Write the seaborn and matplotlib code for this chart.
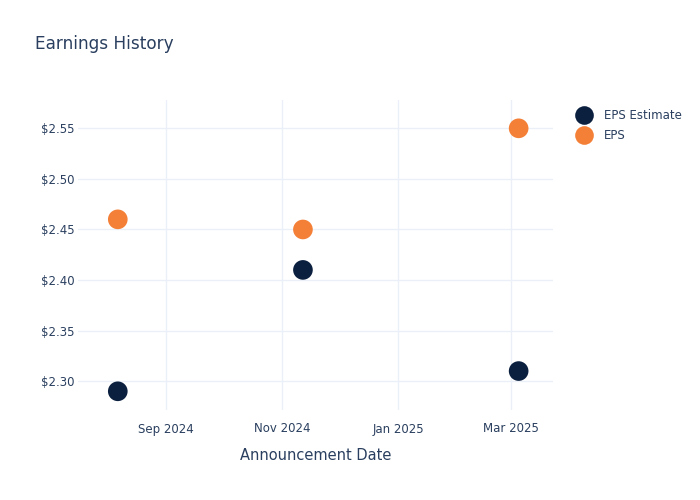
import pandas as pd
import seaborn as sns
import matplotlib.pyplot as plt
import matplotlib.dates as mdates
from matplotlib.ticker import FuncFormatter

# data
dates = ["2024-08-07", "2024-11-12", "2025-03-05"]
eps_estimate = [2.29, 2.41, 2.31]
eps_actual = [2.46, 2.45, 2.55]

text_color = "#2a3f5f"
grid_color = "#ebf0f8"
palette = {"EPS Estimate": "#0b1f3f", "EPS": "#f47f36"}

df = pd.DataFrame({
    "date": pd.to_datetime(dates * 2),
    "value": eps_estimate + eps_actual,
    "series": ["EPS Estimate"] * 3 + ["EPS"] * 3,
})

sns.set_style("white")
plt.rcParams["font.family"] = ["DejaVu Sans"]

fig = plt.figure(figsize=(7, 5), dpi=100)
ax = fig.add_axes([0.111, 0.18, 0.679, 0.62])

sns.scatterplot(data=df, x="date", y="value", hue="series",
                hue_order=["EPS Estimate", "EPS"], palette=palette,
                s=200, linewidth=0, ax=ax, zorder=3)

ax.set_xlim(pd.Timestamp("2024-07-17"), pd.Timestamp("2025-03-23"))
ax.set_ylim(2.2715, 2.578)

ax.xaxis.set_major_locator(mdates.MonthLocator(bymonth=[1, 3, 9, 11]))
ax.xaxis.set_major_formatter(mdates.DateFormatter("%b %Y"))
ax.set_yticks([2.30, 2.35, 2.40, 2.45, 2.50, 2.55])
ax.yaxis.set_major_formatter(FuncFormatter(lambda v, p: f"${v:.2f}"))

ax.grid(True, color=grid_color, linewidth=1)
ax.set_axisbelow(True)
sns.despine(ax=ax, left=True, bottom=True)
ax.tick_params(axis="both", length=0, labelsize=8.5, colors=text_color)
ax.tick_params(axis="x", pad=9)
ax.tick_params(axis="y", pad=2)

ax.set_xlabel("Announcement Date", fontsize=10.5, color=text_color, labelpad=9)
ax.set_ylabel("")

fig.text(0.05, 0.912, "Earnings History", fontsize=12.2, color=text_color,
         va="center", ha="left")

leg = ax.legend(loc="upper left", bbox_to_anchor=(1.03, 0.985), frameon=False,
                fontsize=8.5, handletextpad=0.7, labelspacing=0.55,
                borderaxespad=0, markerscale=0.95)
for t in leg.get_texts():
    t.set_color(text_color)

fig.savefig("out.png", dpi=100)
